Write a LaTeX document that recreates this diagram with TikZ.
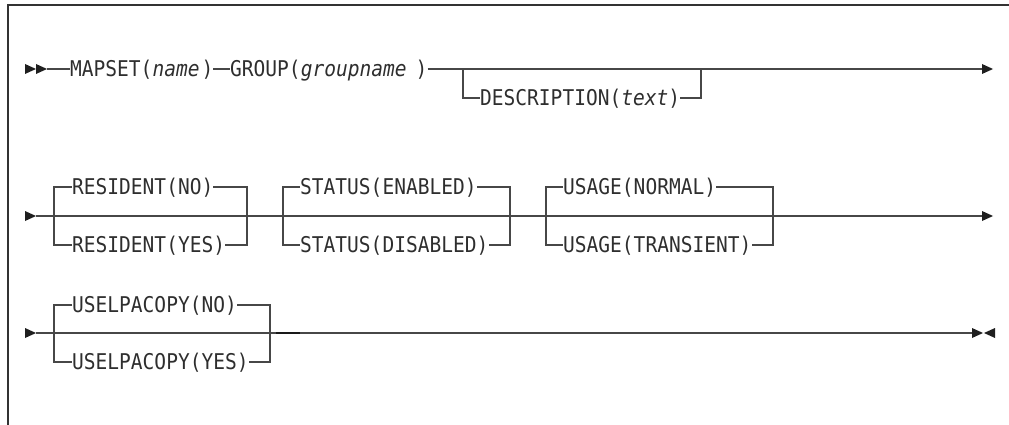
\documentclass[tikz,border=0pt]{standalone}
\usepackage{fontspec}
\setmonofont{DejaVu Sans Mono}[FakeStretch=0.9]
\begin{document}
\begin{tikzpicture}[x=1pt,y=-1pt,
  rail/.style={draw=black!72,line width=1.2pt},
  frame/.style={draw=black!80,line width=1.2pt},
  opt/.style={anchor=west,inner sep=0pt,text height=15.8pt,text depth=0pt,
    font=\ttfamily\fontsize{21.7}{22}\selectfont,text=black!82},
  tip/.style={fill=black!88}]
\useasboundingbox (0,0) rectangle (1009,425);
% frame
\draw[frame] (8,425) -- (8,5) -- (1009,5);

% ---------- Row 1 ----------
\fill[tip] (25,64) -- (36,69) -- (25,74) -- cycle;
\fill[tip] (36,64) -- (47,69) -- (36,74) -- cycle;
\coordinate (r1s) at (47,69);
\coordinate (r1e) at (982,69);
\node[opt] (mapset) at (70,69) {MAPSET(\textit{name}\hspace{2pt})};
\node[opt] (group) at (230,69) {GROUP(\textit{groupname}\hspace{9pt})};
\node[opt] (desc) at (480,98) {DESCRIPTION(\textit{text})};
\coordinate (d1a) at (463,69);
\coordinate (d1b) at (701,69);
\draw[rail] (r1s) -- (mapset.west);
\draw[rail] (mapset.east) -- (group.west);
\draw[rail] (group.east) -- (r1e);
\draw[rail] (d1a) |- (desc.west);
\draw[rail] (desc.east) -| (d1b);
\fill[tip] (982,64) -- (993,69) -- (982,74) -- cycle;

% ---------- Row 2 ----------
\fill[tip] (25,211) -- (36,216) -- (25,221) -- cycle;
\coordinate (r2s) at (36,216);
\coordinate (r2e) at (982,216);
\draw[rail] (r2s) -- (r2e);
\fill[tip] (982,211) -- (993,216) -- (982,221) -- cycle;

\coordinate (ra) at (54,216);
\coordinate (rb) at (247,216);
\node[opt] (resno) at (72,187) {RESIDENT(NO)};
\node[opt] (resyes) at (72,245) {RESIDENT(YES)};
\draw[rail] (resno.west) -| (ra) |- (resyes.west);
\draw[rail] (resno.east) -| (rb) |- (resyes.east);

\coordinate (sa) at (283,216);
\coordinate (sb) at (510,216);
\node[opt] (sten) at (300,187) {STATUS(ENABLED)};
\node[opt] (stdis) at (300,245) {STATUS(DISABLED)};
\draw[rail] (sten.west) -| (sa) |- (stdis.west);
\draw[rail] (sten.east) -| (sb) |- (stdis.east);

\coordinate (ua) at (546,216);
\coordinate (ub) at (773,216);
\node[opt] (usnorm) at (563,187) {USAGE(NORMAL)};
\node[opt] (ustran) at (563,245) {USAGE(TRANSIENT)};
\draw[rail] (usnorm.west) -| (ua) |- (ustran.west);
\draw[rail] (usnorm.east) -| (ub) |- (ustran.east);

% ---------- Row 3 ----------
\fill[tip] (25,328) -- (36,333) -- (25,338) -- cycle;
\coordinate (r3s) at (36,333);
\coordinate (r3e) at (972,333);
\draw[rail] (r3s) -- (r3e);
\coordinate (la) at (54,333);
\coordinate (lb) at (270,333);
\node[opt] (lpno) at (72,305) {USELPACOPY(NO)};
\node[opt] (lpyes) at (72,362) {USELPACOPY(YES)};
\draw[rail] (lpno.west) -| (la) |- (lpyes.west);
\draw[rail] (lpno.east) -| (lb) |- (lpyes.east);
\coordinate (dk1) at (276,333);
\coordinate (dk2) at (300,333);
\draw[line width=1.4pt,black!90] (dk1) -- (dk2);
\fill[tip] (972,328) -- (983,333) -- (972,338) -- cycle;
\fill[tip] (995,328) -- (984,333) -- (995,338) -- cycle;
\end{tikzpicture}
\end{document}
